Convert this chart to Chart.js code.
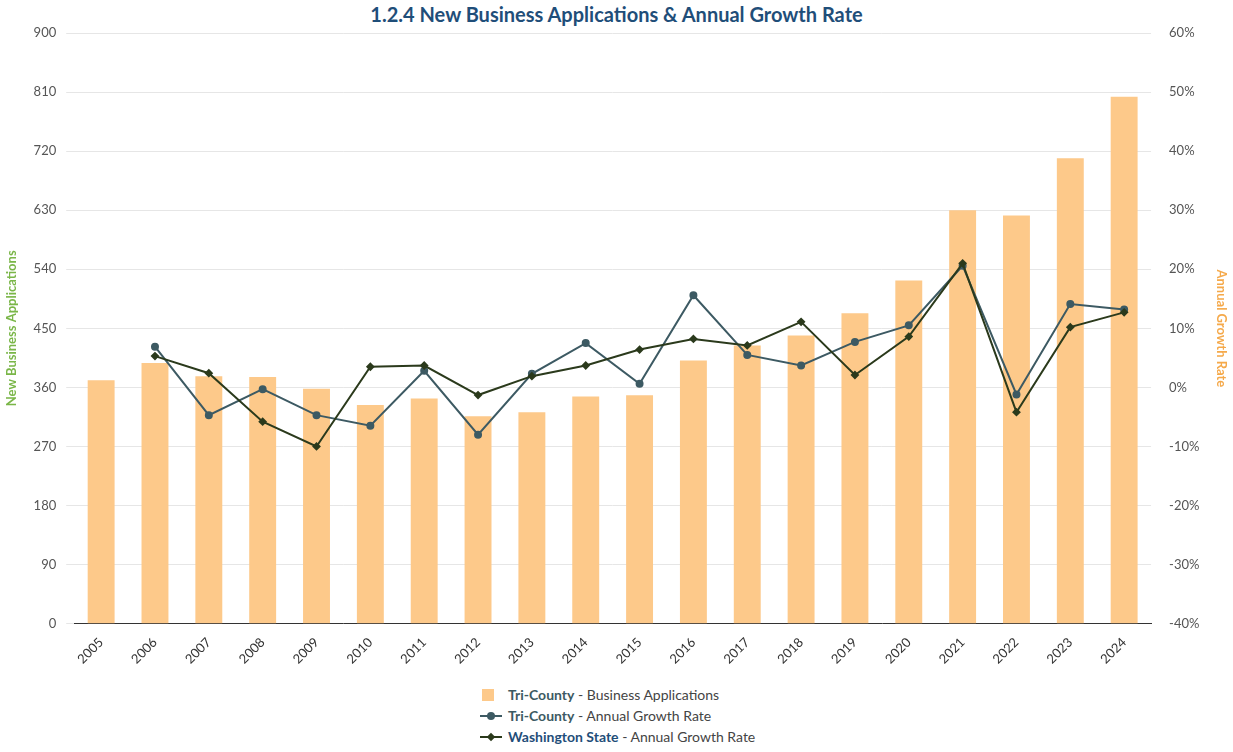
<!DOCTYPE html>
<html><head><meta charset="utf-8">
<script src="https://cdn.jsdelivr.net/npm/chart.js@4"></script>
<style>
body{margin:0;background:#fff;font-family:Lato,sans-serif;}
#wrap{position:absolute;left:0;top:0;width:1233px;height:670px;}
#title{position:absolute;top:2px;width:1233px;text-align:center;font:bold 20px Lato;color:#1f4e79;}
#legend{position:absolute;top:684px;left:480px;font:14px Lato;color:#444;}
#legend div{height:21px;display:flex;align-items:center;}
.sw{width:22px;display:inline-block;margin-right:6px;position:relative;height:12px;}
</style></head><body>
<div id="title">1.2.4 New Business Applications &amp; Annual Growth Rate</div>
<div id="wrap"><canvas id="c" width="1233" height="670"></canvas></div>
<div id="legend">
<div><span class="sw"><span style="position:absolute;left:2px;top:0;width:12px;height:12px;background:#fdc98a"></span></span><b style="color:#3d5a63">Tri-County</b>&nbsp;- Business Applications</div>
<div><span class="sw"><span style="position:absolute;left:0;top:5px;width:22px;height:2px;background:#3d5a63"></span><span style="position:absolute;left:7px;top:2px;width:8px;height:8px;border-radius:50%;background:#3d5a63"></span></span><b style="color:#3d5a63">Tri-County</b>&nbsp;- Annual Growth Rate</div>
<div><span class="sw"><span style="position:absolute;left:0;top:5px;width:22px;height:2px;background:#2b3a1c"></span><span style="position:absolute;left:8px;top:3px;width:6px;height:6px;transform:rotate(45deg);background:#2b3a1c"></span></span><b style="color:#1f4e79">Washington State</b>&nbsp;- Annual Growth Rate</div>
</div>
<script>
const years=['2005','2006','2007','2008','2009','2010','2011','2012','2013','2014','2015','2016','2017','2018','2019','2020','2021','2022','2023','2024'];
const applications=[371,397,377,376,358,333,343,316,322,346,348,401,424,439,473,523,630,622,709,803];
const triGrowth=[null,6.9,-4.7,-0.3,-4.7,-6.5,2.8,-8,2.3,7.5,0.6,15.6,5.5,3.7,7.7,10.5,20.6,-1.2,14.1,13.2];
const waGrowth=[null,5.3,2.4,-5.8,-10,3.5,3.7,-1.3,1.9,3.7,6.4,8.2,7.1,11.1,2.1,8.6,21,-4.2,10.2,12.7];
new Chart(document.getElementById('c'),{
data:{labels:years,datasets:[
{type:'line',label:'Tri-County - Annual Growth Rate',data:triGrowth,yAxisID:'y1',borderColor:'#3d5a63',backgroundColor:'#3d5a63',borderWidth:2,pointRadius:3,tension:0,order:1},
{type:'line',label:'Washington State - Annual Growth Rate',data:waGrowth,yAxisID:'y1',borderColor:'#2b3a1c',backgroundColor:'#2b3a1c',borderWidth:2,pointStyle:'rectRot',pointRadius:3,tension:0,order:0},
{type:'bar',label:'Tri-County - Business Applications',data:applications,yAxisID:'y',backgroundColor:'#fdc98a',barPercentage:0.5,categoryPercentage:1,order:2}
]},
options:{responsive:false,animation:false,
layout:{padding:{top:33,left:0,right:0}},
plugins:{legend:{display:false},tooltip:{enabled:false}},
scales:{
x:{grid:{display:false},border:{color:'#333'},ticks:{color:'#333',font:{family:'Lato',size:13},maxRotation:45,minRotation:45}},
y:{position:'left',min:0,max:900,ticks:{stepSize:90,color:'#555',font:{family:'Lato',size:13},padding:10},grid:{color:'#e6e6e6'},border:{display:false},
 title:{display:true,text:'New Business Applications',color:'#7ab648',font:{family:'Lato',size:13,weight:'bold'}}},
y1:{position:'right',min:-40,max:60,ticks:{stepSize:10,color:'#555',font:{family:'Lato',size:13},padding:10,callback:v=>v+'%'},grid:{display:false},border:{display:false},
 title:{display:true,text:'Annual Growth Rate',color:'#f5a94a',font:{family:'Lato',size:13,weight:'bold'}}}
}}});
</script></body></html>
